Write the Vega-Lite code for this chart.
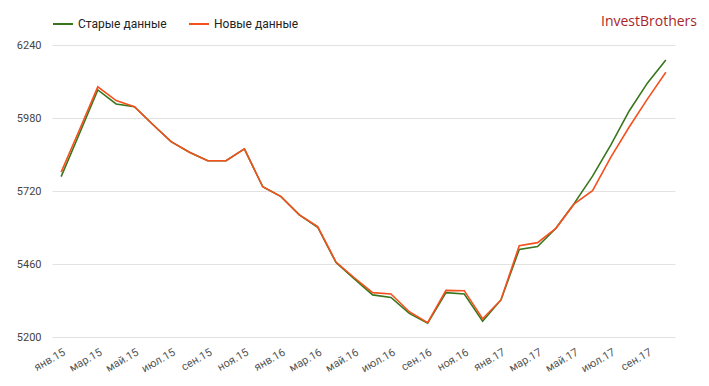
{
  "$schema": "https://vega.github.io/schema/vega-lite/v6.json",
  "width": 623,
  "height": 292,
  "autosize": {"type": "none"},
  "padding": {"left": 52, "top": 45, "right": 34, "bottom": 49},
  "background": "white",
  "title": {
    "text": "InvestBrothers",
    "anchor": "end",
    "color": "#a8262b",
    "font": "Open Sans",
    "fontSize": 14,
    "fontWeight": "normal",
    "dx": 22,
    "offset": -16
  },
  "config": {
    "font": "Roboto",
    "view": {"stroke": null}
  },
  "datasets": {
    "series": [
      {"m": "янв.15", "s": "Старые данные", "v": 5771},
      {"m": "фев.15", "s": "Старые данные", "v": 5925},
      {"m": "мар.15", "s": "Старые данные", "v": 6080},
      {"m": "апр.15", "s": "Старые данные", "v": 6030},
      {"m": "май.15", "s": "Старые данные", "v": 6020},
      {"m": "июн.15", "s": "Старые данные", "v": 5957},
      {"m": "июл.15", "s": "Старые данные", "v": 5896},
      {"m": "авг.15", "s": "Старые данные", "v": 5858},
      {"m": "сен.15", "s": "Старые данные", "v": 5828},
      {"m": "окт.15", "s": "Старые данные", "v": 5828},
      {"m": "ноя.15", "s": "Старые данные", "v": 5870},
      {"m": "дек.15", "s": "Старые данные", "v": 5735},
      {"m": "янв.16", "s": "Старые данные", "v": 5700},
      {"m": "фев.16", "s": "Старые данные", "v": 5635},
      {"m": "мар.16", "s": "Старые данные", "v": 5591},
      {"m": "апр.16", "s": "Старые данные", "v": 5465},
      {"m": "май.16", "s": "Старые данные", "v": 5407},
      {"m": "июн.16", "s": "Старые данные", "v": 5350},
      {"m": "июл.16", "s": "Старые данные", "v": 5341},
      {"m": "авг.16", "s": "Старые данные", "v": 5284},
      {"m": "сен.16", "s": "Старые данные", "v": 5249},
      {"m": "окт.16", "s": "Старые данные", "v": 5358},
      {"m": "ноя.16", "s": "Старые данные", "v": 5353},
      {"m": "дек.16", "s": "Старые данные", "v": 5256},
      {"m": "янв.17", "s": "Старые данные", "v": 5332},
      {"m": "фев.17", "s": "Старые данные", "v": 5512},
      {"m": "мар.17", "s": "Старые данные", "v": 5522},
      {"m": "апр.17", "s": "Старые данные", "v": 5587},
      {"m": "май.17", "s": "Старые данные", "v": 5676},
      {"m": "июн.17", "s": "Старые данные", "v": 5773},
      {"m": "июл.17", "s": "Старые данные", "v": 5884},
      {"m": "авг.17", "s": "Старые данные", "v": 6005},
      {"m": "сен.17", "s": "Старые данные", "v": 6105},
      {"m": "окт.17", "s": "Старые данные", "v": 6187},
      {"m": "янв.15", "s": "Новые данные", "v": 5787},
      {"m": "фев.15", "s": "Новые данные", "v": 5938},
      {"m": "мар.15", "s": "Новые данные", "v": 6091},
      {"m": "апр.15", "s": "Новые данные", "v": 6042},
      {"m": "май.15", "s": "Новые данные", "v": 6020},
      {"m": "июн.15", "s": "Новые данные", "v": 5957},
      {"m": "июл.15", "s": "Новые данные", "v": 5896},
      {"m": "авг.15", "s": "Новые данные", "v": 5858},
      {"m": "сен.15", "s": "Новые данные", "v": 5828},
      {"m": "окт.15", "s": "Новые данные", "v": 5828},
      {"m": "ноя.15", "s": "Новые данные", "v": 5870},
      {"m": "дек.15", "s": "Новые данные", "v": 5735},
      {"m": "янв.16", "s": "Новые данные", "v": 5700},
      {"m": "фев.16", "s": "Новые данные", "v": 5635},
      {"m": "мар.16", "s": "Новые данные", "v": 5593},
      {"m": "апр.16", "s": "Новые данные", "v": 5467},
      {"m": "май.16", "s": "Новые данные", "v": 5411},
      {"m": "июн.16", "s": "Новые данные", "v": 5358},
      {"m": "июл.16", "s": "Новые данные", "v": 5353},
      {"m": "авг.16", "s": "Новые данные", "v": 5290},
      {"m": "сен.16", "s": "Новые данные", "v": 5251},
      {"m": "окт.16", "s": "Новые данные", "v": 5366},
      {"m": "ноя.16", "s": "Новые данные", "v": 5365},
      {"m": "дек.16", "s": "Новые данные", "v": 5265},
      {"m": "янв.17", "s": "Новые данные", "v": 5332},
      {"m": "фев.17", "s": "Новые данные", "v": 5525},
      {"m": "мар.17", "s": "Новые данные", "v": 5536},
      {"m": "апр.17", "s": "Новые данные", "v": 5587},
      {"m": "май.17", "s": "Новые данные", "v": 5674},
      {"m": "июн.17", "s": "Новые данные", "v": 5721},
      {"m": "июл.17", "s": "Новые данные", "v": 5841},
      {"m": "авг.17", "s": "Новые данные", "v": 5948},
      {"m": "сен.17", "s": "Новые данные", "v": 6048},
      {"m": "окт.17", "s": "Новые данные", "v": 6143}
    ]
  },
  "data": {"name": "series"},
  "mark": {"type": "line", "strokeWidth": 1.6, "interpolate": "linear"},
  "encoding": {
    "x": {
      "field": "m",
      "type": "ordinal",
      "sort": null,
      "scale": {"type": "point", "padding": 0.5},
      "axis": {
        "title": null,
        "values": ["янв.15", "мар.15", "май.15", "июл.15", "сен.15", "ноя.15", "янв.16", "мар.16", "май.16", "июл.16", "сен.16", "ноя.16", "янв.17", "мар.17", "май.17", "июл.17", "сен.17"],
        "labelAngle": -30,
        "labelAlign": "right",
        "labelBaseline": "top",
        "labelPadding": 9,
        "labelFontSize": 11,
        "labelColor": "#555555",
        "labelFont": "Roboto",
        "domain": false,
        "ticks": false,
        "grid": false
      }
    },
    "y": {
      "field": "v",
      "type": "quantitative",
      "scale": {"domain": [5200, 6240], "zero": false, "nice": false},
      "axis": {
        "title": null,
        "values": [5200, 5460, 5720, 5980, 6240],
        "format": "d",
        "labelFontSize": 11,
        "labelColor": "#444444",
        "labelFont": "Roboto",
        "labelPadding": 11,
        "domain": false,
        "ticks": false,
        "grid": true,
        "gridColor": "#e2e2e2",
        "gridWidth": 1
      }
    },
    "color": {
      "field": "s",
      "type": "nominal",
      "sort": ["Старые данные", "Новые данные"],
      "scale": {"domain": ["Старые данные", "Новые данные"], "range": ["#38761d", "#f4511e"]},
      "legend": {
        "title": null,
        "orient": "none",
        "direction": "horizontal",
        "legendX": 0,
        "legendY": -32,
        "symbolType": "stroke",
        "symbolSize": 400,
        "symbolStrokeWidth": 2,
        "labelFontSize": 12,
        "labelColor": "#222222",
        "labelFont": "Roboto",
        "columnPadding": 18,
        "labelOffset": 4
      }
    }
  }
}
